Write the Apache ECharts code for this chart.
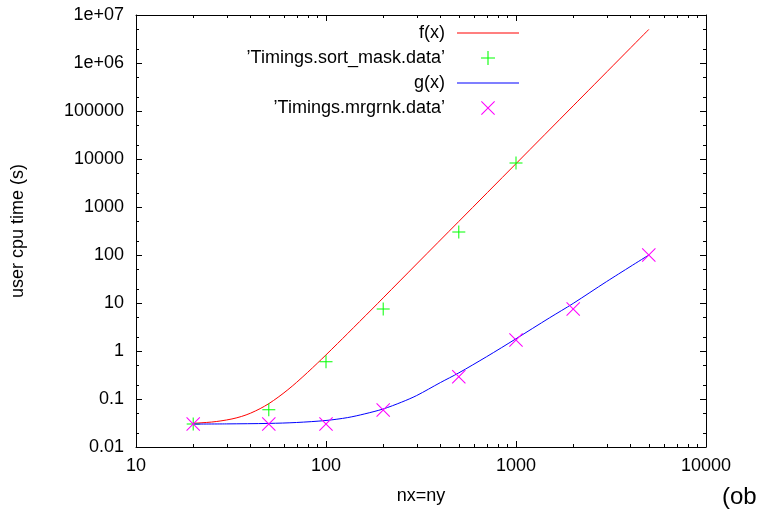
<!DOCTYPE html>
<html><head><meta charset="utf-8">
<script src="https://cdn.jsdelivr.net/npm/echarts@6/dist/echarts.min.js"></script>
<style>html,body{margin:0;padding:0;background:#fff}#c{width:771px;height:511px}</style>
</head><body><div id="c"></div>
<script>
// ---- data ----
const fX = [20, 22, 25, 28, 32, 36, 40, 45, 50, 56, 63, 70, 80, 90, 100, 115, 130, 150, 175, 200, 300, 500, 1000, 2000, 5000];
const fY = [0.0313, 0.0319, 0.0331, 0.035, 0.0384, 0.0434, 0.0505, 0.063, 0.08, 0.109, 0.156, 0.222, 0.358, 0.555, 0.83, 1.43, 2.31, 4.08, 7.5, 12.8, 65, 500, 8000, 128000, 5000000];
const gX = [20, 30, 50, 70, 100, 130, 160, 200, 250, 300, 400, 500, 700, 1000, 1500, 2000, 3000, 5000];
const gY = [0.030, 0.0303, 0.031, 0.0324, 0.0357, 0.041, 0.049, 0.062, 0.086, 0.118, 0.22, 0.35, 0.76, 1.8, 4.9, 9.8, 28, 100];
const sortX = [20, 50, 100, 200, 500, 1000];
const sortY = [0.03, 0.06, 0.6, 7.5, 300, 8300];
const mrgX = [20, 50, 100, 200, 500, 1000, 2000, 5000];
const mrgY = [0.03, 0.03, 0.03, 0.059, 0.29, 1.7, 7.5, 100];
const seriesNames = ['f(x)', '\u2019Timings.sort_mask.data\u2019', 'g(x)', '\u2019Timings.mrgrnk.data\u2019'];
const xRange = [10, 10000];
const yRange = [0.01, 1e7];
const xTickLabels = ['10', '100', '1000', '10000'];
const yTickLabels = ['0.01', '0.1', '1', '10', '100', '1000', '10000', '100000', '1e+06', '1e+07'];
const xMinorTicks = [20,30,40,50,60,70,80,90,200,300,400,500,600,700,800,900,2000,3000,4000,5000,6000,7000,8000,9000];
const yMinorTicks = [0.02,0.05,0.2,0.5,2,5,20,50,200,500,2000,5000,2e4,5e4,2e5,5e5,2e6,5e6];

const FONT = 'Liberation Sans, Arial, Helvetica, sans-serif';
const FS = 18;
const plusIcon = 'path://M6,0H7V6H13V7H7V13H6V7H0V6H6Z';
const crossIcon = 'path://M0,0.7L0.7,0L6.5,5.8L12.3,0L13,0.7L7.2,6.5L13,12.3L12.3,13L6.5,7.2L0.7,13L0,12.3L5.8,6.5Z';
const lineIcon = 'path://M0,0H62V1H0Z';

const zip = (a, b) => a.map((v, i) => [v, b[i]]);
const xLab = v => xTickLabels[Math.round(Math.log10(v)) - 1];
const yLab = v => yTickLabels[Math.round(Math.log10(v)) + 2];

function axisBase(pos) {
  return {
    type: 'log', logBase: 10, position: pos,
    axisLine: { show: true, onZero: false, lineStyle: { color: '#000', width: 1 } },
    axisTick: { show: true, inside: true, length: 6, lineStyle: { color: '#000', width: 1 } },
    splitLine: { show: false }, minorTick: { show: false }, minorSplitLine: { show: false }
  };
}

const chart = echarts.init(document.getElementById('c'), null, { renderer: 'canvas' });
chart.setOption({
  animation: false,
  backgroundColor: '#fff',
  textStyle: { fontFamily: FONT },
  grid: { left: 136, right: 65, top: 15, bottom: 64, containLabel: false },
  legend: {
    orient: 'vertical', align: 'right', right: 252, top: 24, padding: 0,
    itemWidth: 62, itemHeight: 14, itemGap: 7, symbolKeepAspect: true,
    textStyle: { fontSize: FS, lineHeight: 14, color: '#000', fontFamily: FONT, padding: [0, 7, 0, 0] },
    data: [
      { name: seriesNames[0], icon: lineIcon },
      { name: seriesNames[1] },
      { name: seriesNames[2], icon: lineIcon },
      { name: seriesNames[3] }
    ],
    selectedMode: false
  },
  xAxis: [
    Object.assign(axisBase('bottom'), {
      min: xRange[0], max: xRange[1], splitNumber: 3,
      axisLabel: { color: '#000', fontSize: FS, fontFamily: FONT, margin: 10, formatter: xLab },
      name: 'nx=ny', nameLocation: 'middle', nameGap: 40,
      nameTextStyle: { color: '#000', fontSize: FS, fontFamily: FONT }
    }),
    Object.assign(axisBase('top'), {
      min: xRange[0], max: xRange[1], splitNumber: 3, axisLabel: { show: false }
    })
  ],
  yAxis: [
    Object.assign(axisBase('left'), {
      min: yRange[0], max: yRange[1], splitNumber: 9,
      axisLabel: { color: '#000', fontSize: FS, fontFamily: FONT, margin: 12, formatter: yLab },
      name: 'user cpu time (s)', nameLocation: 'middle', nameGap: 109, nameRotate: 90,
      nameTextStyle: { color: '#000', fontSize: FS, fontFamily: FONT }
    }),
    Object.assign(axisBase('right'), {
      min: yRange[0], max: yRange[1], splitNumber: 9, axisLabel: { show: false }
    })
  ],
  graphic: [{
    type: 'text', left: 722, top: 485,
    style: { text: '(ob', fontSize: 24, fill: '#000', fontFamily: FONT }
  }],
  series: [
    {
      name: 'xminor', type: 'custom', silent: true, clip: false, z: 1,
      data: xMinorTicks.map(v => [v, yRange[0]]),
      renderItem: (p, api) => {
        const b = api.coord([api.value(0), yRange[0]]);
        const t = api.coord([api.value(0), yRange[1]]);
        const x = Math.round(b[0]) + 0.5;
        return { type: 'group', children: [
          { type: 'line', shape: { x1: x, y1: b[1], x2: x, y2: b[1] - 3 }, style: { stroke: '#000', lineWidth: 1 } },
          { type: 'line', shape: { x1: x, y1: t[1], x2: x, y2: t[1] + 3 }, style: { stroke: '#000', lineWidth: 1 } }
        ]};
      }
    },
    {
      name: 'yminor', type: 'custom', silent: true, clip: false, z: 1,
      data: yMinorTicks.map(v => [xRange[0], v]),
      renderItem: (p, api) => {
        const l = api.coord([xRange[0], api.value(1)]);
        const r = api.coord([xRange[1], api.value(1)]);
        const y = Math.round(l[1]) + 0.5;
        return { type: 'group', children: [
          { type: 'line', shape: { x1: l[0], y1: y, x2: l[0] + 3, y2: y }, style: { stroke: '#000', lineWidth: 1 } },
          { type: 'line', shape: { x1: r[0], y1: y, x2: r[0] - 3, y2: y }, style: { stroke: '#000', lineWidth: 1 } }
        ]};
      }
    },
    {
      name: seriesNames[0], type: 'line', data: zip(fX, fY), symbol: 'none', smooth: 0.3,
      lineStyle: { color: '#ff0000', width: 1 }, itemStyle: { color: '#ff0000' }, z: 2
    },
    {
      name: seriesNames[1], type: 'scatter', data: zip(sortX, sortY), symbol: plusIcon, symbolSize: 13,
      itemStyle: { color: '#00ff00', opacity: 1 }, z: 3
    },
    {
      name: seriesNames[2], type: 'line', data: zip(gX, gY), symbol: 'none', smooth: 0.3,
      lineStyle: { color: '#0000ff', width: 1 }, itemStyle: { color: '#0000ff' }, z: 4
    },
    {
      name: seriesNames[3], type: 'scatter', data: zip(mrgX, mrgY), symbol: crossIcon, symbolSize: 14,
      itemStyle: { color: '#ff00ff', opacity: 1 }, z: 5
    }
  ]
});
</script></body></html>
